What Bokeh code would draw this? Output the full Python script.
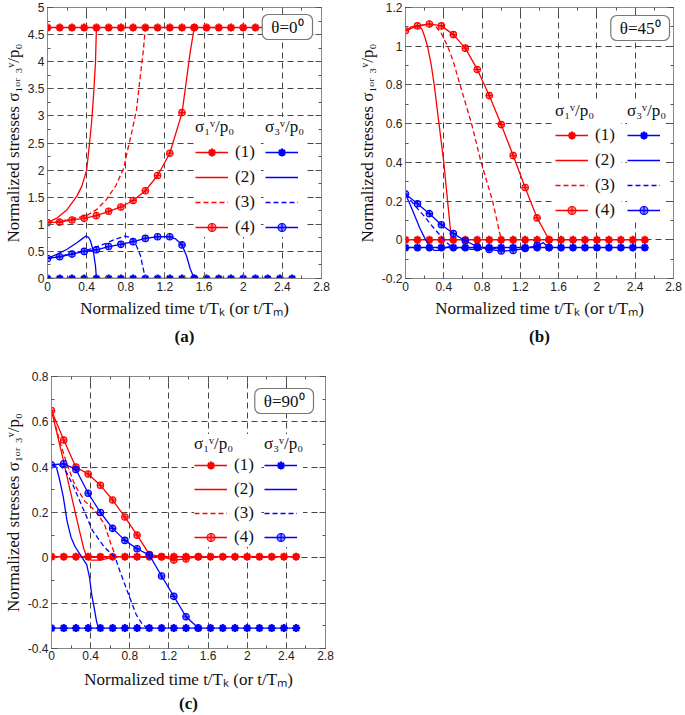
from bokeh.plotting import figure
from bokeh.models import (Range1d, LinearAxis, FixedTicker, CustomJSTickFormatter,
                          Legend, LegendItem, Label, Title)
from bokeh.layouts import column, row
from bokeh.embed import file_html
from bokeh.resources import INLINE

RED = "#ff0000"
BLUE = "#0000ff"
SERIF = "Liberation Serif"
SANS = "Liberation Sans"

# ---------------- ticks ----------------
X_TICKS = [0, 0.4, 0.8, 1.2, 1.6, 2.0, 2.4, 2.8]
A_Y_TICKS = [0, 0.5, 1, 1.5, 2, 2.5, 3, 3.5, 4, 4.5, 5]
B_Y_TICKS = [-0.2, 0, 0.2, 0.4, 0.6, 0.8, 1.0, 1.2]
C_Y_TICKS = [-0.4, -0.2, 0, 0.2, 0.4, 0.6, 0.8]

# ---------------- data ----------------
T_MARK = [0, 0.125, 0.25, 0.375, 0.5, 0.625, 0.75, 0.875, 1.0, 1.125, 1.25, 1.375,
          1.5, 1.625, 1.75, 1.875, 2.0, 2.125, 2.25, 2.375, 2.5]
T_MARK4 = [0, 0.125, 0.25, 0.375, 0.5, 0.625, 0.75, 0.875, 1.0, 1.125, 1.25, 1.375, 1.5]

# panel (a) theta = 0
A_S1_1 = [4.63, 4.63, 4.63, 4.63, 4.63, 4.63, 4.63, 4.63, 4.63, 4.63, 4.63,
          4.63, 4.63, 4.63, 4.63, 4.63, 4.63, 4.63, 4.63, 4.63, 4.63]
A_S3_1 = [0, 0, 0, 0, 0, 0, 0, 0, 0, 0, 0, 0, 0, 0, 0, 0, 0, 0, 0, 0, 0]
A_S1_2_T = [0, 0.1, 0.2, 0.3, 0.35, 0.4, 0.43, 0.45, 0.47, 0.49, 0.5]
A_S1_2 = [1.03, 1.12, 1.27, 1.52, 1.70, 2.0, 2.5, 2.87, 3.36, 3.97, 4.63]
A_S1_3_T = [0, 0.2, 0.4, 0.5, 0.6, 0.7, 0.78, 0.82, 0.86, 0.91, 0.94, 0.98, 1.0]
A_S1_3 = [1.03, 1.08, 1.16, 1.27, 1.45, 1.72, 2.04, 2.38, 2.69, 3.12, 3.6, 4.22, 4.63]
A_S1_4_T = [0, 0.125, 0.25, 0.375, 0.5, 0.625, 0.75, 0.875, 1.0, 1.125, 1.25, 1.375, 1.42, 1.46, 1.5]
A_S1_4 = [1.03, 1.04, 1.08, 1.11, 1.16, 1.24, 1.32, 1.44, 1.62, 1.90, 2.31, 3.06, 3.66, 4.2, 4.63]
A_S1_4_M = [1.03, 1.04, 1.08, 1.11, 1.16, 1.24, 1.32, 1.44, 1.62, 1.90, 2.31, 3.06, 4.63]
A_S3_2_T = [0, 0.1, 0.2, 0.3, 0.36, 0.39, 0.42, 0.44, 0.46, 0.47, 0.49, 0.5]
A_S3_2 = [0.37, 0.45, 0.54, 0.66, 0.74, 0.78, 0.76, 0.69, 0.56, 0.48, 0.24, 0.0]
A_S3_3_T = [0, 0.2, 0.4, 0.6, 0.7, 0.79, 0.86, 0.91, 0.95, 0.98, 1.0]
A_S3_3 = [0.37, 0.44, 0.52, 0.65, 0.73, 0.78, 0.75, 0.6, 0.42, 0.17, 0.0]
A_S3_4_T = [0, 0.125, 0.25, 0.375, 0.5, 0.625, 0.75, 0.875, 1.0, 1.125, 1.25, 1.31, 1.375, 1.42, 1.46, 1.5]
A_S3_4 = [0.37, 0.40, 0.45, 0.50, 0.53, 0.59, 0.63, 0.68, 0.74, 0.77, 0.77, 0.73, 0.62, 0.42, 0.17, 0.0]
A_S3_4_M = [0.37, 0.40, 0.45, 0.50, 0.53, 0.59, 0.63, 0.68, 0.74, 0.77, 0.77, 0.62, 0.0]

# panel (b) theta = 45
B_S1_1 = [0, 0, 0, 0, 0, 0, 0, 0, 0, 0, 0, 0, 0, 0, 0, 0, 0, 0, 0, 0, 0]
B_S3_1 = [-0.04, -0.04, -0.04, -0.04, -0.04, -0.04, -0.04, -0.04, -0.04, -0.04, -0.04,
          -0.04, -0.04, -0.04, -0.04, -0.04, -0.04, -0.04, -0.04, -0.04, -0.04]
B_S1_2_T = [0, 0.06, 0.12, 0.17, 0.2, 0.23, 0.27, 0.3, 0.35, 0.4, 0.44, 0.48]
B_S1_2 = [1.08, 1.1, 1.105, 1.09, 1.05, 1.0, 0.9, 0.8, 0.6, 0.4, 0.2, 0.0]
B_S1_3_T = [0, 0.1, 0.2, 0.3, 0.37, 0.44, 0.5, 0.57, 0.69, 0.79, 0.91, 1.0]
B_S1_3 = [1.08, 1.1, 1.11, 1.11, 1.07, 1.0, 0.92, 0.8, 0.6, 0.4, 0.2, 0.0]
B_S1_4_M = [1.08, 1.105, 1.115, 1.105, 1.06, 0.99, 0.88, 0.745, 0.595, 0.435, 0.27, 0.113, 0.0]
B_S3_2_T = [0, 0.05, 0.1, 0.15, 0.2, 0.25, 0.3, 0.35, 0.4, 0.45, 0.5]
B_S3_2 = [0.237, 0.18, 0.12, 0.06, 0.01, -0.035, -0.055, -0.055, -0.045, -0.035, -0.04]
B_S3_3_T = [0, 0.1, 0.2, 0.28, 0.35, 0.42, 0.48, 0.55, 0.7, 0.85, 1.0]
B_S3_3 = [0.237, 0.175, 0.12, 0.07, 0.03, -0.01, -0.035, -0.045, -0.05, -0.05, -0.04]
B_S3_4_T = [0, 0.125, 0.25, 0.375, 0.5, 0.625, 0.75, 0.875, 1.0, 1.125, 1.25, 1.375, 1.44, 1.5]
B_S3_4 = [0.237, 0.186, 0.135, 0.078, 0.032, -0.005, -0.035, -0.05, -0.058, -0.055, -0.045, -0.03, -0.015, -0.04]
B_S3_4_M = [0.237, 0.186, 0.135, 0.078, 0.032, -0.005, -0.035, -0.05, -0.058, -0.055, -0.045, -0.03, -0.04]

# panel (c) theta = 90
C_S1_1 = [0.005, 0.005, 0.005, 0.005, 0.005, 0.005, 0.005, 0.005, 0.005, 0.005, 0.005,
          0.005, 0.005, 0.005, 0.005, 0.005, 0.005, 0.005, 0.005, 0.005, 0.005]
C_S3_1 = [-0.31, -0.31, -0.31, -0.31, -0.31, -0.31, -0.31, -0.31, -0.31, -0.31, -0.31,
          -0.31, -0.31, -0.31, -0.31, -0.31, -0.31, -0.31, -0.31, -0.31, -0.31]
C_S1_2_T = [0, 0.1, 0.2, 0.28, 0.33, 0.36, 0.4, 0.5, 0.6]
C_S1_2 = [0.65, 0.47, 0.28, 0.13, 0.04, 0.005, -0.01, -0.01, 0.0]
C_S1_3_T = [0, 0.08, 0.16, 0.24, 0.34, 0.44, 0.54, 0.6, 0.66]
C_S1_3 = [0.65, 0.52, 0.41, 0.32, 0.25, 0.21, 0.15, 0.07, 0.0]
C_S1_4_M = [0.65, 0.52, 0.40, 0.37, 0.32, 0.255, 0.18, 0.10, 0.015, 0.005, -0.01, -0.005, 0.005]
C_S3_2_T = [0, 0.05, 0.08, 0.12, 0.16, 0.2, 0.24, 0.3, 0.36, 0.39, 0.41, 0.44, 0.46, 0.48]
C_S3_2 = [0.41, 0.40, 0.35, 0.27, 0.16, 0.09, 0.05, 0.01, -0.03, -0.09, -0.16, -0.23, -0.28, -0.31]
C_S3_3_T = [0, 0.08, 0.15, 0.22, 0.29, 0.42, 0.54, 0.65, 0.7, 0.76, 0.865, 0.93, 0.97, 1.0]
C_S3_3 = [0.41, 0.41, 0.38, 0.32, 0.25, 0.12, 0.047, 0.003, -0.06, -0.13, -0.25, -0.295, -0.305, -0.31]
C_S3_4_M = [0.41, 0.415, 0.39, 0.285, 0.20, 0.13, 0.077, 0.04, 0.012, -0.08, -0.17, -0.26, -0.31]

X_LABEL = "Normalized time t/Tₖ (or t/Tₘ)"
Y_LABEL = "Normalized stresses σ₁ₒᵣ ₃ᵛ/p₀"
LEG_TITLE_1 = "σ₁ᵛ/p₀"
LEG_TITLE_3 = "σ₃ᵛ/p₀"
LEG_LABELS = ["(1)", "(2)", "(3)", "(4)"]

FMT = CustomJSTickFormatter(code="return String(Number(tick.toFixed(3)));")


def ticker(major):
    minor = [(a + b) / 2 for a, b in zip(major[:-1], major[1:])]
    return FixedTicker(ticks=list(major), minor_ticks=list(major) + minor)


def style_axis(ax, show_labels, tick_standoff=3, label_standoff=5):
    ax.axis_line_color = "#888888"
    ax.major_tick_line_color = "#555555"
    ax.minor_tick_line_color = "#555555"
    ax.major_tick_in = 6
    ax.major_tick_out = 0
    ax.minor_tick_in = 3
    ax.minor_tick_out = 0
    if show_labels:
        ax.major_label_text_font = SANS
        ax.major_label_text_font_size = "12px"
        ax.major_label_text_color = "#222222"
        ax.major_label_standoff = tick_standoff
        ax.axis_label_text_font = SERIF
        ax.axis_label_text_font_size = "17px"
        ax.axis_label_text_font_style = "normal"
        ax.axis_label_text_color = "#111111"
        ax.axis_label_standoff = label_standoff
    else:
        ax.major_label_text_font_size = "1px"
        ax.major_label_text_color = None
        ax.major_label_standoff = 0


def make_panel(width, height, borders, y_lo, y_hi, y_ticks, caption, theta,
               s1, s3, leg, box, stand):
    bl, br, bt, bb = borders
    p = figure(width=width, height=height, x_range=Range1d(0, 2.8),
               y_range=Range1d(y_lo, y_hi), output_backend="svg",
               toolbar_location=None, min_border_left=bl, min_border_right=br,
               min_border_top=bt, min_border_bottom=bb)
    p.background_fill_color = "white"
    p.border_fill_color = "white"
    p.outline_line_color = "#888888"
    xt = ticker(X_TICKS)
    yt = ticker(y_ticks)
    p.xaxis.ticker = xt
    p.yaxis.ticker = yt
    p.xaxis.formatter = FMT
    p.yaxis.formatter = FMT
    p.xaxis.axis_label = X_LABEL
    p.yaxis.axis_label = Y_LABEL
    style_axis(p.xaxis[0], True, stand[0], stand[1])
    style_axis(p.yaxis[0], True, 3, 2)
    top = LinearAxis(ticker=ticker(X_TICKS))
    right = LinearAxis(ticker=ticker(y_ticks))
    style_axis(top, False)
    style_axis(right, False)
    p.add_layout(top, "above")
    p.add_layout(right, "right")
    p.xgrid.ticker = FixedTicker(ticks=list(X_TICKS))
    p.ygrid.ticker = FixedTicker(ticks=list(y_ticks))
    for g in (p.xgrid[0], p.ygrid[0]):
        g.grid_line_color = "#444444"
        g.grid_line_dash = "6 4"
        g.grid_line_width = 1

    def series(spec, color):
        out = []
        t, v = spec[0]
        r1 = p.line(t, v, line_color=color, line_width=1.4)
        m1 = p.scatter(t, v, marker="asterisk", size=8, line_color=color, line_width=2.2)
        out.append([r1, m1])
        t, v = spec[1]
        out.append([p.line(t, v, line_color=color, line_width=1.3)])
        t, v = spec[2]
        out.append([p.line(t, v, line_color=color, line_width=1.3, line_dash="5 3")])
        (t, v), (tm, vm) = spec[3]
        r4 = p.line(t, v, line_color=color, line_width=1.3)
        m4 = p.scatter(tm, vm, marker="circle_cross", size=6.5, line_color=color,
                       fill_color=color, fill_alpha=0.45, line_width=1.1)
        out.append([r4, m4])
        return out

    red = series(s1, RED)
    blue = series(s3, BLUE)

    fw = width - bl - br
    fh = height - bt - bb
    (x1, x3, y0, tstand, sp) = leg
    common = dict(glyph_width=33, glyph_height=20, spacing=sp, padding=2, margin=0,
                  border_line_color=None, background_fill_color="white",
                  background_fill_alpha=1.0, label_text_font=SERIF,
                  label_text_font_size="17px", label_text_color="#111111",
                  title_text_font=SERIF, title_text_font_size="17px",
                  title_text_font_style="normal", title_text_color="#111111",
                  title_standoff=tstand)
    leg1 = Legend(items=[LegendItem(label=LEG_LABELS[i], renderers=red[i]) for i in range(4)],
                  location=(x1, y0), title=LEG_TITLE_1, label_standoff=7,
                  label_width=26, **common)
    leg3 = Legend(items=[LegendItem(label=" ", renderers=blue[i]) for i in range(4)],
                  location=(x3, y0), title=LEG_TITLE_3, label_standoff=0,
                  label_width=0, **common)
    p.add_layout(leg1)
    p.add_layout(leg3)

    dx, dy = box
    lab = Label(x=fw - dx, y=fh - dy, x_units="screen", y_units="screen", text=theta,
                anchor="top_right", text_font=SERIF, text_font_size="17px",
                text_color="#111111", background_fill_color="white",
                border_line_color="#777777", border_line_width=1.2,
                padding=(9, 3), border_radius=6)
    p.add_layout(lab)

    cap = Title(text=caption, align="center", text_font=SERIF, text_font_size="17px",
                text_font_style="bold", text_color="#111111", standoff=stand[2])
    p.add_layout(cap, "below")
    return p


pa = make_panel(354, 352, (47, 33, 7, 73), 0, 5, A_Y_TICKS, "(a)", "θ=0⁰",
                [(T_MARK, A_S1_1), (A_S1_2_T, A_S1_2), (A_S1_3_T, A_S1_3),
                 ((A_S1_4_T, A_S1_4), (T_MARK4, A_S1_4_M))],
                [(T_MARK, A_S3_1), (A_S3_2_T, A_S3_2), (A_S3_3_T, A_S3_3),
                 ((A_S3_4_T, A_S3_4), (T_MARK4, A_S3_4_M))],
                (148, 218, 41, 5, 5), (9, 8), (3, 5, 8))
pb = make_panel(331, 352, (47, 12, 6, 74), -0.2, 1.2, B_Y_TICKS, "(b)", "θ=45⁰",
                [(T_MARK, B_S1_1), (B_S1_2_T, B_S1_2), (B_S1_3_T, B_S1_3),
                 ((T_MARK4, B_S1_4_M), (T_MARK4, B_S1_4_M))],
                [(T_MARK, B_S3_1), (B_S3_2_T, B_S3_2), (B_S3_3_T, B_S3_3),
                 ((B_S3_4_T, B_S3_4), (T_MARK4, B_S3_4_M))],
                (150, 222, 58, 4, 5), (8, 9), (3, 5, 8))
pc = make_panel(354, 363, (50, 29, 24, 67), -0.4, 0.8, C_Y_TICKS, "(c)", "θ=90⁰",
                [(T_MARK, C_S1_1), (C_S1_2_T, C_S1_2), (C_S1_3_T, C_S1_3),
                 ((T_MARK4, C_S1_4_M), (T_MARK4, C_S1_4_M))],
                [(T_MARK, C_S3_1), (C_S3_2_T, C_S3_2), (C_S3_3_T, C_S3_3),
                 ((T_MARK4, C_S3_4_M), (T_MARK4, C_S3_4_M))],
                (143, 213, 101, 1, 4), (13, 12), (2, 7, 1))

layout = column(row(pa, pb), pc)
open("out.html", "w").write(file_html(layout, INLINE))
